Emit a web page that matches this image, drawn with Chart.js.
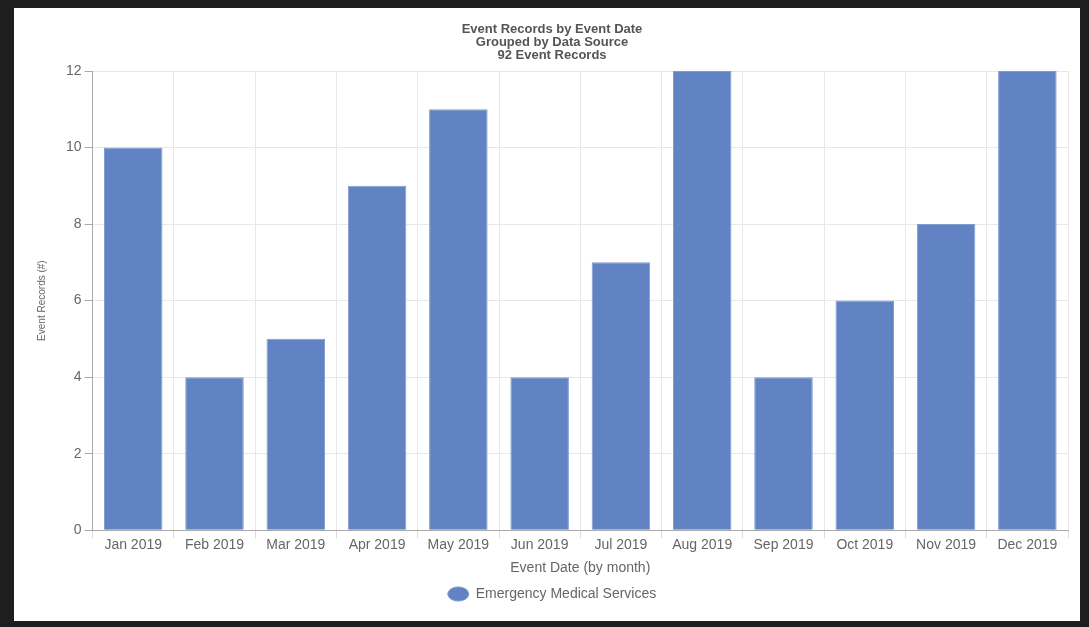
<!DOCTYPE html>
<html>
<head>
<meta charset="utf-8">
<script src="https://cdn.jsdelivr.net/npm/chart.js@4"></script>
<style>
  html, body { margin: 0; padding: 0; background: #1e1e1e; }
  #box { position: absolute; left: 14px; top: 8px; width: 1066px; height: 613px; background: #fff; }
  canvas { display: block; }
</style>
</head>
<body>
<div id="box"><canvas id="graficEvents" width="1066" height="613"></canvas></div>
<script>
const months = ["Jan 2019", "Feb 2019", "Mar 2019", "Apr 2019", "May 2019", "Jun 2019",
  "Jul 2019", "Aug 2019", "Sep 2019", "Oct 2019", "Nov 2019", "Dec 2019"];
const emsRecords = [10, 4, 5, 9, 11, 4, 7, 12, 4, 6, 8, 12];
const seriesName = "Emergency Medical Services";
const titleLines = ["Event Records by Event Date", "Grouped by Data Source", "92 Event Records"];

const fontFamily = "'Liberation Sans', Arial, sans-serif";

// eslint-disable-next-line no-undef
new Chart(document.querySelector("#graficEvents"), {
  type: 'bar',
  data: {
    labels: months,
    datasets: [{
      label: seriesName,
      data: emsRecords,
      backgroundColor: 'rgb(97, 131, 195)',
      borderColor: 'rgb(128, 153, 206)',
      borderWidth: 1,
      categoryPercentage: 0.72,
      barPercentage: 1
    }]
  },
  options: {
    responsive: false,
    animation: false,
    layout: { padding: { left: 22, right: 12, top: 4, bottom: 10 } },
    plugins: {
      title: {
        display: true,
        text: titleLines,
        color: '#555',
        font: { family: fontFamily, size: 13, weight: 'bold', lineHeight: 1 },
        padding: { top: 11, bottom: 9 }
      },
      legend: {
        position: 'bottom',
        labels: {
          usePointStyle: true,
          pointStyle: 'circle',
          pointStyleWidth: 21,
          boxHeight: 10,
          color: '#666',
          font: { family: fontFamily, size: 14 },
          padding: 10
        }
      },
      tooltip: { enabled: false }
    },
    scales: {
      x: {
        grid: { color: '#e8e8e8', tickLength: 8, tickColor: '#ddd' },
        border: { color: '#aaa' },
        ticks: { color: '#666', font: { family: fontFamily, size: 14, lineHeight: 1 }, padding: 0, maxRotation: 0 },
        title: {
          display: true,
          text: 'Event Date (by month)',
          color: '#666',
          font: { family: fontFamily, size: 14 },
          padding: { top: 8, bottom: 0 }
        }
      },
      y: {
        min: 0,
        max: 12,
        ticks: { stepSize: 2, color: '#666', font: { family: fontFamily, size: 14 }, padding: 3 },
        grid: { color: '#e8e8e8', tickLength: 8, tickColor: '#aaa' },
        border: { color: '#aaa' },
        title: {
          display: true,
          text: 'Event Records (#)',
          color: '#666',
          font: { family: fontFamily, size: 10 },
          padding: { top: 0, bottom: 15 }
        }
      }
    }
  }
});
</script>
</body>
</html>
